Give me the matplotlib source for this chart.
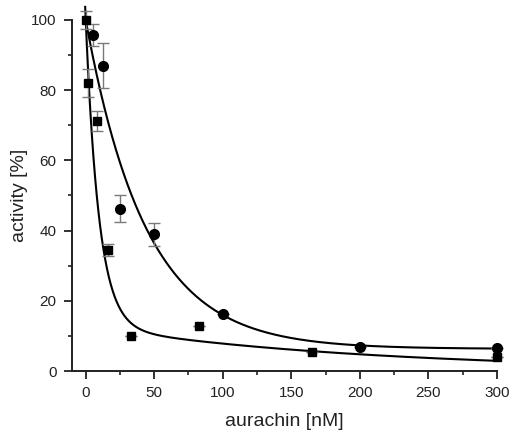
import numpy as np
import matplotlib.pyplot as plt
from matplotlib.ticker import MultipleLocator

plt.rcParams['font.family'] = ['Liberation Sans', 'DejaVu Sans']

# measured points (squares)
sq_x = [0, 1.7, 8, 16.5, 33, 83, 165, 300]
sq_y = [100, 82, 71.3, 34.5, 10, 12.8, 5.5, 3.9]
sq_err = [2.7, 4, 2.8, 1.7, 0, 0, 0, 0]

# measured points (circles)
ci_x = [5, 12.4, 25, 50, 100, 200, 300]
ci_y = [95.7, 87, 46.2, 39, 16.2, 6.9, 6.6]
ci_err = [3.1, 6.4, 3.8, 3.3, 0, 0, 0]

# fitted decay parameters
sq_fit = dict(A1=87.2, t1=9.6, A2=12.8, t2=202.0, y0=0.0)
ci_fit = dict(A1=93.7, t1=44.0, A2=0.0, t2=1.0, y0=6.3)


def decay(x, A1, t1, A2, t2, y0):
    return A1 * np.exp(-x / t1) + A2 * np.exp(-x / t2) + y0


fig = plt.figure(figsize=(5.09, 4.30), dpi=100)
ax = fig.add_axes([0.1415, 0.1372, 0.8345, 0.8163])

xs = np.linspace(-0.4, 300, 1500)
ax.plot(xs, decay(xs, **sq_fit), color='black', lw=1.5, clip_on=False, zorder=2)
ax.plot(xs, decay(xs, **ci_fit), color='black', lw=1.5, clip_on=False, zorder=2)

ax.errorbar(sq_x, sq_y, yerr=sq_err, fmt='none', ecolor='#7a7a7a',
            elinewidth=1, capsize=4, capthick=1, clip_on=False, zorder=3)
ax.errorbar(ci_x, ci_y, yerr=ci_err, fmt='none', ecolor='#7a7a7a',
            elinewidth=1, capsize=4, capthick=1, clip_on=False, zorder=3)
ax.plot(ci_x, ci_y, 'o', color='black', ms=7, clip_on=False, zorder=4)
ax.plot(sq_x, sq_y, 's', color='black', ms=6, clip_on=False, zorder=5)

ax.set_xlim(-10, 300)
ax.set_ylim(0, 100)
ax.spines['top'].set_visible(False)
ax.spines['right'].set_visible(False)
for s in ('left', 'bottom'):
    ax.spines[s].set_linewidth(1.4)
    ax.spines[s].set_color('#222222')

ax.xaxis.set_major_locator(MultipleLocator(50))
ax.xaxis.set_minor_locator(MultipleLocator(25))
ax.yaxis.set_major_locator(MultipleLocator(20))
ax.yaxis.set_minor_locator(MultipleLocator(10))
ax.tick_params(which='major', direction='out', length=6, width=1.3,
               colors='#222222', labelsize=11, pad=5)
ax.tick_params(which='minor', direction='out', length=3, width=1.2,
               colors='#222222')

ax.set_xlabel('aurachin [nM]', fontsize=14, color='#222222', labelpad=9)
ax.set_ylabel('activity [%]', fontsize=14, color='#222222', labelpad=2)

fig.savefig('out.png', dpi=100)
